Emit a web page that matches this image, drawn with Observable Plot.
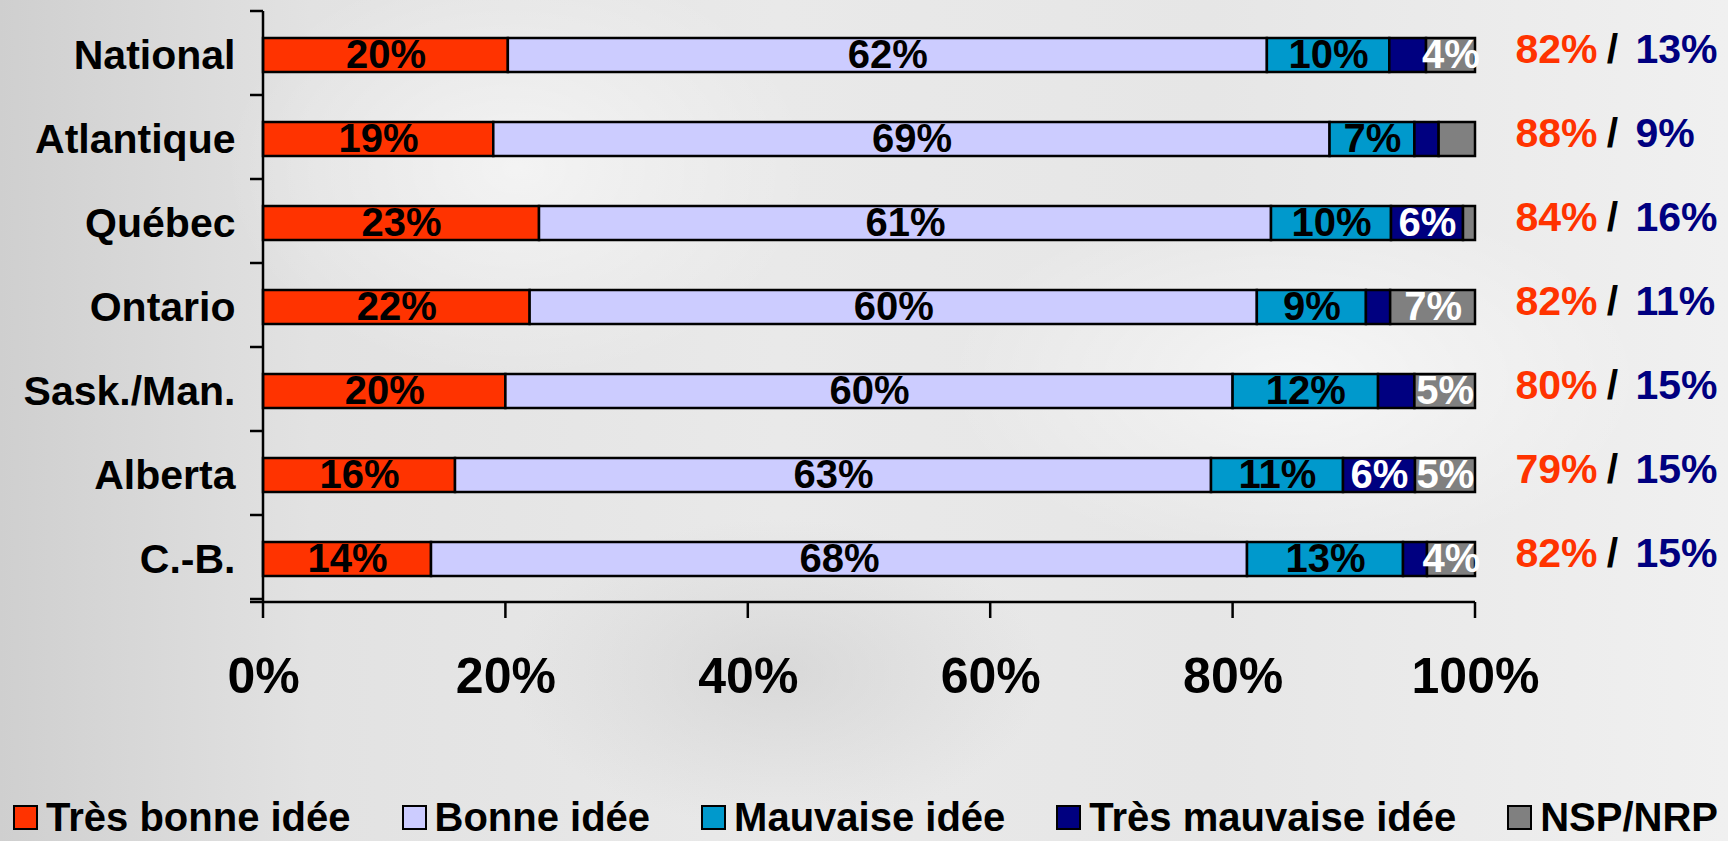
<!DOCTYPE html>
<html>
<head>
<meta charset="utf-8">
<script src="https://cdn.jsdelivr.net/npm/d3@7"></script>
<script src="https://cdn.jsdelivr.net/npm/@observablehq/plot@0.6"></script>
<style>
html, body { margin: 0; padding: 0; width: 1728px; height: 841px; overflow: hidden; }
body {
  font-family: "Liberation Sans", Arial, sans-serif;
  font-weight: bold;
  background:
    radial-gradient(ellipse 420px 300px at 30% 20%, rgba(255,255,255,0.55), rgba(255,255,255,0) 70%),
    radial-gradient(ellipse 500px 260px at 75% 45%, rgba(255,255,255,0.6), rgba(255,255,255,0) 70%),
    radial-gradient(ellipse 380px 220px at 45% 80%, rgba(200,200,200,0.5), rgba(200,200,200,0) 70%),
    linear-gradient(90deg, #cfcfcf 0%, #e2e2e2 18%, #e9e9e9 45%, #e6e6e6 70%, #f0f0f0 100%);
}
#chart { position: absolute; left: 0; top: 0; }
#legend {
  position: absolute; left: 13px; right: 10px; top: 797px;
  display: flex; justify-content: space-between; align-items: center;
  font-size: 40px; font-weight: bold; color: #000; line-height: 40px;
}
.item { display: flex; align-items: center; white-space: nowrap; }
.sw { width: 21px; height: 21px; border: 2px solid #000; margin-right: 8px; }
</style>
</head>
<body>
<div id="chart"></div>
<div id="legend"></div>
<script>
// ---- Data ----
const regions = ["National", "Atlantique", "Québec", "Ontario", "Sask./Man.", "Alberta", "C.-B."];
const categories = ["Très bonne idée", "Bonne idée", "Mauvaise idée", "Très mauvaise idée", "NSP/NRP"];
const colors = ["#FF3300", "#CCCCFF", "#0099CC", "#000080", "#808080"];
const tresBonne    = [20, 19, 23, 22, 20, 16, 14];
const bonne        = [62, 69, 61, 60, 60, 63, 68];
const mauvaise     = [10,  7, 10,  9, 12, 11, 13];
const tresMauvaise = [ 3,  2,  6,  2,  3,  6,  2];
const nsp          = [ 4,  3,  1,  7,  5,  5,  4];
const totalBonne    = [82, 88, 84, 82, 80, 79, 82];
const totalMauvaise = [13,  9, 16, 11, 15, 15, 15];
const xTicks = [0, 0.2, 0.4, 0.6, 0.8, 1];

const series = [tresBonne, bonne, mauvaise, tresMauvaise, nsp];
const data = [];
regions.forEach((r, i) => {
  categories.forEach((c, j) => data.push({region: r, category: c, value: series[j][i]}));
});
const lightText = new Set(["Très mauvaise idée", "NSP/NRP"]);
const pct = d3.format(".0%");

// custom axes: boundary ticks on y, outside ticks on x
function axesMark(index, scales, values, dimensions) {
  const {width, height, marginTop, marginBottom, marginLeft, marginRight} = dimensions;
  const x = scales.x;
  const bottom = height - marginBottom;
  const x0 = x ? x(0) : marginLeft;
  const n = regions.length;
  const step = (scales.y && scales.y.step) ? scales.y.step() : (bottom - marginTop) / n;
  const g = d3.create("svg:g").attr("stroke", "#000").attr("stroke-width", 2.5).attr("fill", "none");
  g.append("line").attr("x1", x0).attr("x2", x0).attr("y1", marginTop).attr("y2", bottom);
  g.append("line").attr("x1", x0 - 13).attr("x2", x ? x(1) : width - marginRight).attr("y1", bottom).attr("y2", bottom);
  for (let i = 0; i <= n; i++) {
    const yy = marginTop + i * step;
    g.append("line").attr("x1", x0 - 13).attr("x2", x0).attr("y1", yy).attr("y2", yy);
  }
  for (const t of xTicks) {
    g.append("line").attr("x1", x(t)).attr("x2", x(t)).attr("y1", bottom).attr("y2", bottom + 16);
  }
  return g.node();
}

const stackOpts = {x: "value", y: "region", z: "category", offset: "normalize"};

const chart = Plot.plot({
  width: 1728,
  height: 720,
  marginTop: 11,
  marginBottom: 118,
  marginLeft: 263,
  marginRight: 253,
  style: {background: "transparent", fontFamily: "'Liberation Sans', Arial, sans-serif", overflow: "visible"},
  x: {domain: [0, 1], axis: null},
  y: {domain: regions, paddingInner: 0.6, paddingOuter: 0.3, axis: null},
  color: {domain: categories, range: colors},
  marks: [
    Plot.barX(data, Plot.stackX({...stackOpts, fill: "category", stroke: "#000", strokeWidth: 2.5})),
    Plot.text(data, Plot.stackX({...stackOpts,
      text: d => (d.value >= 4 && !lightText.has(d.category)) ? d.value + "%" : null,
      fill: "#000", fontSize: 40, fontWeight: "bold"})),
    Plot.text(data, Plot.stackX({...stackOpts,
      text: d => (d.value >= 4 && lightText.has(d.category)) ? d.value + "%" : null,
      fill: "#fff", fontSize: 40, fontWeight: "bold"})),
    axesMark,
    Plot.text(regions, {y: d => d, text: d => d, frameAnchor: "left", textAnchor: "end", dx: -28,
      fontSize: 41, fontWeight: "bold", fill: "#000"}),
    Plot.text(regions, {y: d => d, text: (d, i) => totalBonne[i] + "%", frameAnchor: "right", textAnchor: "start",
      dx: 40, dy: -6, fontSize: 41, fontWeight: "bold", fill: "#FF3300"}),
    Plot.text(regions, {y: d => d, text: () => "/", frameAnchor: "right", textAnchor: "middle",
      dx: 137, dy: -6, fontSize: 41, fontWeight: "bold", fill: "#000"}),
    Plot.text(regions, {y: d => d, text: (d, i) => totalMauvaise[i] + "%", frameAnchor: "right", textAnchor: "start",
      dx: 160, dy: -6, fontSize: 41, fontWeight: "bold", fill: "#000080"}),
    Plot.text(xTicks, {x: d => d, text: d => pct(d), frameAnchor: "bottom", dy: 90,
      fontSize: 50, fontWeight: "bold", fill: "#000"})
  ]
});
document.getElementById("chart").appendChild(chart);

const legend = document.getElementById("legend");
categories.forEach((c, j) => {
  const item = document.createElement("div");
  item.className = "item";
  const sw = document.createElement("span");
  sw.className = "sw";
  sw.style.background = colors[j];
  const label = document.createElement("span");
  label.textContent = c;
  item.appendChild(sw);
  item.appendChild(label);
  legend.appendChild(item);
});
</script>
</body>
</html>
